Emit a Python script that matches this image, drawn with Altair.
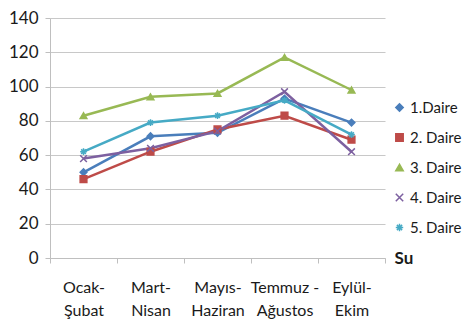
import altair as alt
import pandas as pd

periods = ["Ocak-\nŞubat", "Mart-\nNisan", "Mayıs-\nHaziran", "Temmuz -\nAğustos", "Eylül-\nEkim"]
series_names = ["1.Daire", "2. Daire", "3. Daire", "4. Daire", "5. Daire"]
daire1 = [50, 71, 73, 93, 79]
daire2 = [46, 62, 75, 83, 69]
daire3 = [83, 94, 96, 117, 98]
daire4 = [58, 64, 74, 97, 62]
daire5 = [62, 79, 83, 92, 72]
y_ticks = [0, 20, 40, 60, 80, 100, 120, 140]

colors = ["#4a7ebb", "#be4b48", "#98b954", "#7d60a0", "#46aac5"]
shapes = ["diamond", "square", "triangle-up",
          "M-1,-1L1,1M-1,1L1,-1",
          "M-1,0L1,0M0,-1L0,1M-0.7,-0.7L0.7,0.7M-0.7,0.7L0.7,-0.7"]

rows = []
for name, vals in zip(series_names, [daire1, daire2, daire3, daire4, daire5]):
    for p, v in zip(periods, vals):
        rows.append({"Dönem": p, "Seri": name, "Değer": v})
df = pd.DataFrame(rows)

FONT = "Lato"

x = alt.X("Dönem:N", sort=periods,
          scale=alt.Scale(type="band", paddingInner=0, paddingOuter=0),
          axis=alt.Axis(title="Su", labelExpr="split(datum.label, '\\n')",
                        labelAngle=0, labelFontSize=16, labelColor="#1a1a1a",
                        labelFont=FONT, labelPadding=16, labelLineHeight=23,
                        tickBand="extent", tickSize=5, tickColor="#bfbfbf",
                        domainColor="#bfbfbf", grid=False,
                        titleFont=FONT, titleFontSize=17, titleFontWeight="bold",
                        titleColor="#1a1a1a", titleX=344, titleY=0,
                        titleAlign="left", titleBaseline="middle", titleAnchor="start"))
y = alt.Y("Değer:Q", scale=alt.Scale(domain=[0, 140], nice=False),
          axis=alt.Axis(title=None, values=y_ticks, labelFontSize=17, labelColor="#1a1a1a",
                        labelFont=FONT, labelPadding=7, tickSize=5, tickColor="#bfbfbf",
                        domainColor="#bfbfbf", gridColor="#c8c8c8", gridWidth=1.2))

color_scale = alt.Scale(domain=series_names, range=colors)

lines = alt.Chart(df).mark_line(strokeWidth=2.5).encode(
    x=x, y=y,
    color=alt.Color("Seri:N", scale=color_scale, title=None),
)

points = alt.Chart(df).mark_point(filled=True, size=45, strokeWidth=1.5, opacity=1).encode(
    x=x, y=y,
    color=alt.Color("Seri:N", scale=color_scale, title=None),
    stroke=alt.Stroke("Seri:N", scale=color_scale, title=None),
    shape=alt.Shape("Seri:N", scale=alt.Scale(domain=series_names, range=shapes), title=None),
)

chart = alt.layer(lines, points).properties(
    width=335, height=240,
    autosize=alt.AutoSizeParams(type="none"),
    padding={"left": 42, "top": 10, "right": 82, "bottom": 63},
).configure_view(stroke=None).configure_legend(
    orient="none", legendX=342, legendY=82, labelFont=FONT, labelFontSize=15,
    labelColor="#1a1a1a", rowPadding=14, symbolSize=55, symbolStrokeWidth=1.5,
    labelOffset=3,
)

chart.save("out.html", embed_options={"renderer": "svg", "actions": False})
